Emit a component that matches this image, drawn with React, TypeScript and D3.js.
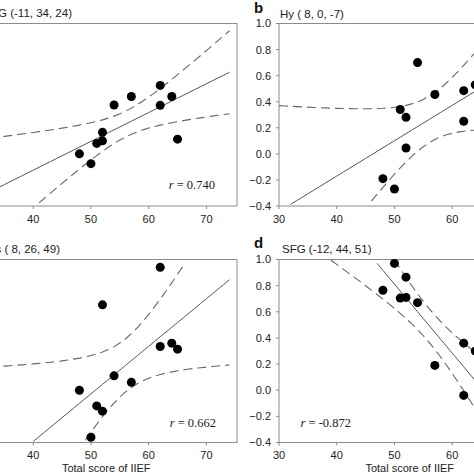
import React from 'react';
import * as d3 from 'd3';

// ---- data ----
const iief = [48, 50, 51, 52, 52, 54, 57, 62, 62, 64, 65];
const sfgA = [0.0, -0.075, 0.08, 0.165, 0.1, 0.375, 0.44, 0.525, 0.372, 0.44, 0.113];
const hyB = [-0.19, -0.27, 0.34, 0.28, 0.045, 0.7, 0.455, 0.485, 0.25, 0.53, 0.3];
const insC = [0.0, -0.36, -0.12, 0.653, -0.16, 0.11, 0.06, 0.94, 0.334, 0.36, 0.314];
const sfgD = [0.765, 0.97, 0.705, 0.865, 0.71, 0.67, 0.19, 0.36, -0.04, 0.3, -0.1];

const panelLetters = ['a', 'b', 'c', 'd'];
const panelTitles = ['SFG (-11, 34, 24)', 'Hy ( 8, 0, -7)', 'Ins ( 8, 26, 49)', 'SFG (-12, 44, 51)'];
const rValues = [0.74, NaN, 0.662, -0.872];
const rLabels = ['0.740', '', '0.662', '-0.872'];
const xTicks = [30, 40, 50, 60, 70];
const yTicks = [-0.4, -0.2, 0.0, 0.2, 0.4, 0.6, 0.8, 1.0];
const xDomain: [number, number] = [30, 75.3];
const yDomain: [number, number] = [-0.4, 1.0];
const fitRange: [number, number] = [30, 74];
const xTitle = 'Total score of IIEF';
const T975_DF9 = 2.262;

const series = [sfgA, hyB, insC, sfgD];

// ---- layout ----
const W = 474;
const H = 474;
const boxW = 261.5;
const layouts = [
  { left: -24.5, top: 23.5, bottom: 206, titleX: 72, titleAnchor: 'end', titleY: 17, letterY: 12.5, rX: 215, rY: 189, rAnchor: 'end', showTitleX: false },
  { left: 279, top: 23.5, bottom: 206, titleX: 280, titleAnchor: 'start', titleY: 17.5, letterY: 12.5, rX: 560, rY: 189, rAnchor: 'end', showTitleX: false },
  { left: -24.5, top: 259.5, bottom: 442.5, titleX: 60, titleAnchor: 'end', titleY: 253, letterY: 247.5, rX: 216, rY: 426.5, rAnchor: 'end', showTitleX: true },
  { left: 279, top: 259.5, bottom: 442.5, titleX: 282, titleAnchor: 'start', titleY: 252.5, letterY: 247.5, rX: 300.5, rY: 426.5, rAnchor: 'start', showTitleX: true },
];

const sans = "Arial, 'Liberation Sans', Helvetica, sans-serif";
const serif = "'Times New Roman', 'Liberation Serif', Times, serif";

function regression(xs: number[], ys: number[], rRep: number) {
  const n = xs.length;
  const xbar = d3.mean(xs)!;
  const ybar = d3.mean(ys)!;
  let sxx = 0, sxy = 0, syy = 0;
  xs.forEach((x, i) => {
    sxx += (x - xbar) ** 2;
    sxy += (x - xbar) * (ys[i] - ybar);
    syy += (ys[i] - ybar) ** 2;
  });
  const slope = sxy / sxx;
  const intercept = ybar - slope * xbar;
  const r = isNaN(rRep) ? sxy / Math.sqrt(sxx * syy) : rRep;
  const s = Math.sqrt((syy * (1 - r * r)) / (n - 2));
  const pred = (x: number) => intercept + slope * x;
  const hw = (x: number) => T975_DF9 * s * Math.sqrt(1 / n + (x - xbar) ** 2 / sxx);
  return { pred, hw };
}

function Panel({ idx }: { idx: number }) {
  const L = layouts[idx];
  const ys = series[idx];
  const x = d3.scaleLinear().domain(xDomain).range([L.left, L.left + boxW]);
  const y = d3.scaleLinear().domain(yDomain).range([L.bottom, L.top]);
  const fit = regression(iief, ys, rValues[idx]);
  const samples = d3.range(fitRange[0], fitRange[1] + 0.001, 1);
  const inY = (v: number) => v >= yDomain[0] - 1e-9 && v <= yDomain[1] + 1e-9;
  const mk = (f: (v: number) => number) =>
    d3
      .line<number>()
      .defined((v) => inY(f(v)))
      .x((v) => x(v))
      .y((v) => y(f(v)))(samples) || '';
  const mid = mk(fit.pred);
  const upper = mk((v) => fit.pred(v) + fit.hw(v));
  const lower = mk((v) => fit.pred(v) - fit.hw(v));
  const yLabelX = L.left - 8;
  const letterX = L.left - 25;

  return (
    <g>
      <rect x={L.left} y={L.top} width={boxW} height={L.bottom - L.top} fill="none" stroke="#8c8c8c" strokeWidth={1} />
      {xTicks.map((t) => (
        <g key={'xt' + t}>
          <line x1={x(t)} x2={x(t)} y1={L.bottom} y2={L.bottom + 3} stroke="#8c8c8c" />
          {x(t) > 0 && x(t) < W && (
            <text x={x(t)} y={L.bottom + 16.5} textAnchor="middle" fontSize={11} fontFamily={sans} fill="#222">
              {t}
            </text>
          )}
        </g>
      ))}
      {yTicks.map((t) => (
        <g key={'yt' + t}>
          <line x1={L.left} x2={L.left - 3} y1={y(t)} y2={y(t)} stroke="#8c8c8c" />
          {yLabelX > 0 && (
            <text x={yLabelX} y={y(t)} dy="0.36em" textAnchor="end" fontSize={11} fontFamily={sans} fill="#222">
              {d3.format('.1f')(t)}
            </text>
          )}
        </g>
      ))}
      <path d={upper} fill="none" stroke="#666" strokeWidth={1.1} strokeDasharray="9,5" />
      <path d={lower} fill="none" stroke="#666" strokeWidth={1.1} strokeDasharray="9,5" />
      <path d={mid} fill="none" stroke="#555" strokeWidth={1} />
      {iief.map((v, i) => (
        <circle key={'p' + i} cx={x(v)} cy={y(ys[i])} r={4.5} fill="#000" />
      ))}
      {letterX > 0 && (
        <text x={letterX} y={L.letterY} fontSize={15} fontWeight="bold" fontFamily={sans} fill="#111">
          {panelLetters[idx]}
        </text>
      )}
      <text x={L.titleX} y={L.titleY} textAnchor={L.titleAnchor as any} fontSize={11.5} fontFamily={sans} fill="#222">
        {panelTitles[idx]}
      </text>
      {rLabels[idx] && (
        <text x={L.rX} y={L.rY} textAnchor={L.rAnchor as any} fontSize={12.5} fontFamily={serif} fill="#222">
          <tspan fontStyle="italic">r</tspan>
          {' = ' + rLabels[idx]}
        </text>
      )}
      {L.showTitleX && (
        <text x={L.left + boxW / 2} y={471.5} textAnchor="middle" fontSize={11} fontFamily={sans} fill="#222">
          {xTitle}
        </text>
      )}
    </g>
  );
}

export default function App() {
  return (
    <svg
      width={W}
      height={H}
      viewBox={`0 0 ${W} ${H}`}
      style={{ position: 'absolute', left: 0, top: 0, background: '#fff' }}
    >
      <rect x={0} y={0} width={W} height={H} fill="#fff" />
      {[0, 1, 2, 3].map((i) => (
        <Panel key={i} idx={i} />
      ))}
    </svg>
  );
}
